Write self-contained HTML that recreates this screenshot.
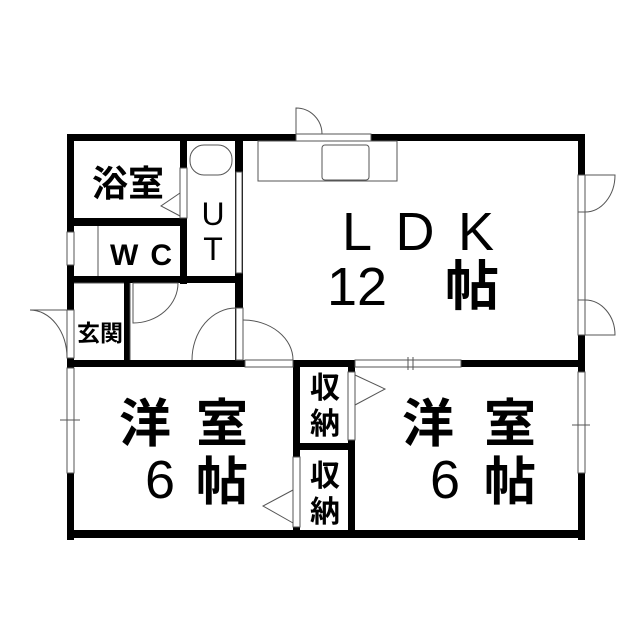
<!DOCTYPE html><html><head><style>body{margin:0;background:#fff}svg{display:block}text{font-family:"Liberation Sans","Noto Sans CJK JP",sans-serif;fill:#000;text-anchor:middle}.b{font-weight:bold}</style></head><body>
<svg width="639" height="640" viewBox="0 0 639 640">
<g fill="#000">
<rect x="67" y="134" width="229" height="7"/>
<rect x="371" y="134" width="214" height="7"/>
<rect x="578" y="134" width="7" height="406"/>
<rect x="67" y="134" width="7" height="406"/>
<rect x="67" y="530" width="518" height="8"/>
<rect x="180" y="141" width="7" height="143"/>
<rect x="74" y="218" width="110" height="8"/>
<rect x="235" y="141" width="8" height="219"/>
<rect x="74" y="276" width="169" height="7"/>
<rect x="124" y="283" width="6" height="80"/>
<rect x="67" y="360" width="178" height="7"/>
<rect x="293" y="360" width="62" height="7"/>
<rect x="461" y="360" width="124" height="7"/>
<rect x="293" y="360" width="7" height="178"/>
<rect x="348" y="360" width="7" height="178"/>
<rect x="293" y="443" width="62" height="7"/>
</g>
<g fill="#fff" stroke="#555" stroke-width="1">
<rect x="296" y="134" width="75" height="7"/>
<rect x="180" y="168" width="7" height="50"/>
<rect x="236" y="172" width="6" height="101"/>
<rect x="67" y="232" width="7" height="33"/>
<rect x="67" y="310" width="7" height="48"/>
<rect x="236" y="308" width="7" height="52"/>
<rect x="245" y="360" width="48" height="7"/>
<rect x="355" y="360" width="106" height="7"/>
<rect x="578" y="175" width="7" height="37"/>
<rect x="578" y="212" width="7" height="88"/>
<rect x="578" y="300" width="7" height="35"/>
<rect x="578" y="372" width="7" height="101"/>
<rect x="67" y="368" width="7" height="105"/>
<rect x="348" y="372" width="7" height="68"/>
<rect x="293" y="457" width="7" height="70"/>
<rect x="258" y="141" width="139" height="40"/>
<rect x="322" y="145" width="47" height="35" rx="3"/>
<rect x="190" y="145" width="42" height="30" rx="14"/>
</g>
<g fill="none" stroke="#555" stroke-width="1">
<path d="M296 134 V108 A26 26 0 0 1 322 134"/>
<path d="M67 310 H30 A37 48 0 0 1 67 358"/>
<path d="M133 283 H178 A45 40 0 0 1 133 323 Z"/>
<path d="M236 308 A44 52 0 0 0 192 360 M243 320 A50 40 0 0 1 293 360"/>
<path d="M585 175 H615 A30 37 0 0 1 585 212"/>
<path d="M585 335 H615 A30 35 0 0 0 585 300"/>
<path d="M180 193 L161 206 L180 216"/>
<path d="M355 375 L385 389 L355 405"/>
<path d="M293 490 L263 506 L293 523"/>
<path d="M98 226 V276 M74 283 H124 M130 283 V360"/>
<path d="M408 357 V370 M413 357 V370 M572 425 H590 M60 420 H80"/>
</g>
<text class="b" x="128" y="196" font-size="36">浴室</text>
<text class="b" x="141" y="265" font-size="30" textLength="62" lengthAdjust="spacing">WC</text>
<text x="213" y="225" font-size="32">U</text>
<text x="213" y="260" font-size="32">T</text>
<text class="b" x="100" y="341" font-size="23">玄関</text>
<text x="418" y="250" font-size="54" textLength="152" lengthAdjust="spacing">LDK</text>
<text x="357" y="305" font-size="54">12</text>
<text class="b" x="472" y="305" font-size="54">帖</text>
<text class="b" x="145" y="442" font-size="52">洋</text>
<text class="b" x="222" y="442" font-size="52">室</text>
<text x="160" y="498" font-size="54">6</text>
<text class="b" x="222" y="500" font-size="52">帖</text>
<text class="b" x="428" y="442" font-size="52">洋</text>
<text class="b" x="510" y="442" font-size="52">室</text>
<text x="445" y="498" font-size="54">6</text>
<text class="b" x="510" y="500" font-size="52">帖</text>
<text class="b" x="325" y="398" font-size="30">収</text>
<text class="b" x="325" y="434" font-size="30">納</text>
<text class="b" x="325" y="486" font-size="30">収</text>
<text class="b" x="325" y="522" font-size="30">納</text>
</svg></body></html>
